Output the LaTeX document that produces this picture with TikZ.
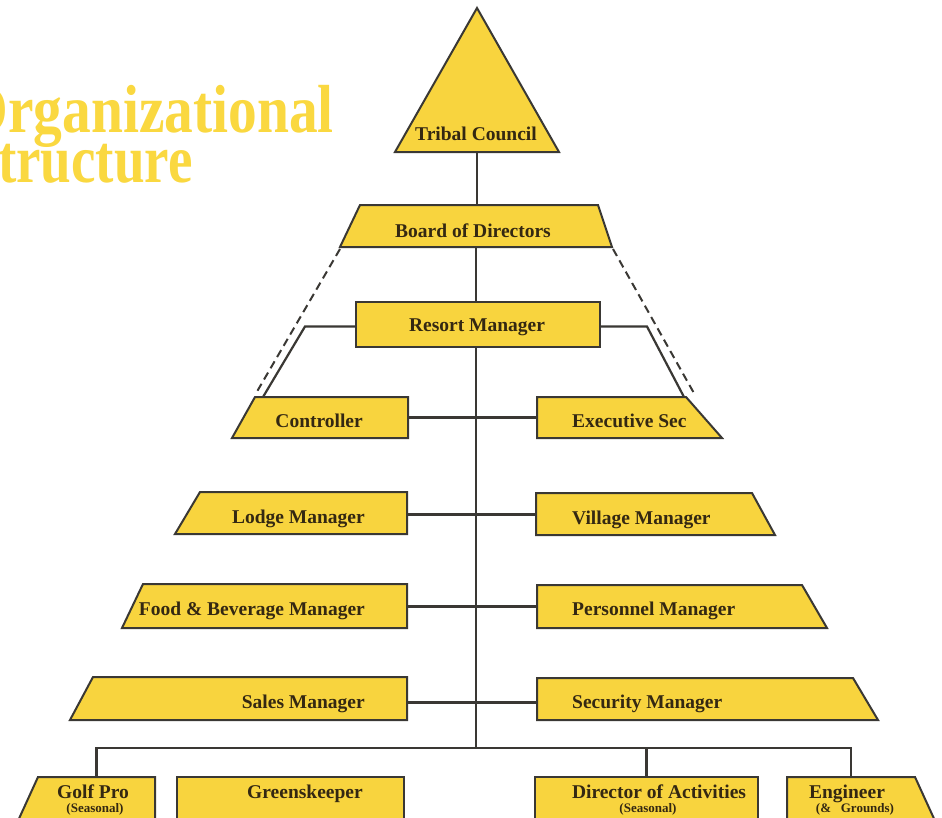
\documentclass[tikz,border=0pt]{standalone}
\usepackage{fontspec}
\setmainfont{Liberation Serif}
\usetikzlibrary{calc}

\definecolor{slabfill}{RGB}{248,212,62}
\definecolor{titlegold}{RGB}{250,216,64}
\definecolor{inkline}{RGB}{58,56,52}
\definecolor{inktext}{RGB}{52,40,18}

\tikzset{
  frame/.style={rectangle, inner sep=0pt, outer sep=0pt, anchor=north west},
  slab/.style={fill=slabfill, draw=inkline, line width=2pt, line join=miter},
  wire/.style={draw=inkline, line width=2.2pt},
  dotted link/.style={draw=inkline, line width=2pt, dash pattern=on 8pt off 5pt},
  lbl/.style={inner sep=0pt, text=inktext, font=\fontsize{19.5}{22}\selectfont\bfseries},
  sublbl/.style={inner sep=0pt, text=inktext, font=\fontsize{13}{15}\selectfont\bfseries},
  headline/.style={inner sep=0pt, text=titlegold, font=\fontsize{68}{70}\selectfont\bfseries},
}

% slab whose bottom edge reaches further left / right
\newcommand\leftslab[2]{\path[slab] (#1.north west) -- (#1.north east) -- (#1.south east) -- ($(#1.south west)+(-#2,0)$) -- cycle;}
\newcommand\rightslab[2]{\path[slab] (#1.north west) -- (#1.north east) -- ($(#1.south east)+(#2,0)$) -- (#1.south west) -- cycle;}
\newcommand\flatslab[1]{\path[slab] (#1.north west) -- (#1.north east) -- (#1.south east) -- (#1.south west) -- cycle;}

\begin{document}
\begin{tikzpicture}[x=1pt,y=-1pt]
\useasboundingbox (0,0) rectangle (942,817);
\clip (0,0) rectangle (942,817);
\fill[white] (0,0) rectangle (942,817);

% heading
\node[headline, anchor=base east] (head1) at (334,132) {\scalebox{0.845}[1]{Organizational}};
\node[headline, anchor=base east] (head2) at (193,182) {\scalebox{0.81}[1]{Structure}};

% frames of the boxes
\node[frame, anchor=south, minimum width=164, minimum height=144] (tribal) at (477,152) {};
\node[frame, minimum width=238, minimum height=42] (board) at (360,205) {};
\node[frame, minimum width=244, minimum height=45] (resort) at (356,302) {};
\node[frame, minimum width=153, minimum height=41] (ctrl) at (255,397) {};
\node[frame, minimum width=149, minimum height=41] (exec) at (537,397) {};
\node[frame, minimum width=207, minimum height=42] (lodge) at (200,492) {};
\node[frame, minimum width=216, minimum height=42] (village) at (536,493) {};
\node[frame, minimum width=264, minimum height=44] (food) at (143,584) {};
\node[frame, minimum width=265, minimum height=43] (personnel) at (537,585) {};
\node[frame, minimum width=314, minimum height=43] (sales) at (93,677) {};
\node[frame, minimum width=316, minimum height=42] (security) at (537,678) {};
\node[frame, minimum width=117, minimum height=46] (golf) at (38,777) {};
\node[frame, minimum width=227, minimum height=46] (green) at (177,777) {};
\node[frame, minimum width=223, minimum height=46] (director) at (535,777) {};
\node[frame, minimum width=128, minimum height=46] (engineer) at (787,777) {};

\coordinate (bar) at (476,748);

% connectors
\draw[wire] (tribal.south) -- (tribal.south |- board.north);
\draw[wire] (bar |- board.south) -- (bar |- resort.north);
\draw[wire] (bar |- resort.south) -- (bar);
\draw[wire] ($(resort.west)+(0,2)$) -- ++(-51,0) -- ($(ctrl.north west)+(8,0)$);
\draw[wire] ($(resort.east)+(0,2)$) -- ++(47,0) -- ($(exec.north east)+(-2,0)$);
\draw[dotted link] ($(board.south west)+(-20,2)$) -- ($(ctrl.north west)+(0,-2)$);
\draw[dotted link] ($(board.south east)+(15,2)$) -- ($(exec.north east)+(9,-2)$);
\draw[wire] (ctrl.east) -- (ctrl.east -| exec.west);
\draw[wire] ($(lodge.east)+(0,1.5)$) -- ($(lodge.east -| village.west)+(0,1.5)$);
\draw[wire] ($(food.east)+(0,0.5)$) -- ($(food.east -| personnel.west)+(0,0.5)$);
\draw[wire] ($(sales.east)+(0,4)$) -- ($(sales.east -| security.west)+(0,4)$);
\draw[wire] (golf.north) -- (golf.north |- bar) -- (engineer.north |- bar) -- (engineer.north);
\draw[wire] ($(green.north west)+(140,0)$) -- ($(green.north west)+(140,0)$ |- bar);
\draw[wire] (director.north) -- (director.north |- bar);

% boxes
\path[slab] (tribal.south west) -- (tribal.south east) -- (477,8) -- cycle;
\path[slab] (board.north west) -- (board.north east) -- ($(board.south east)+(14,0)$) -- ($(board.south west)+(-20,0)$) -- cycle;
\flatslab{resort}
\leftslab{ctrl}{23}
\rightslab{exec}{36}
\leftslab{lodge}{25}
\rightslab{village}{23}
\leftslab{food}{21}
\rightslab{personnel}{25}
\leftslab{sales}{23}
\rightslab{security}{25}
\leftslab{golf}{21}
\flatslab{green}
\flatslab{director}
\rightslab{engineer}{21}

% labels
\node[lbl, anchor=base] (tribal-t) at (476,140) {Tribal Council};
\node[lbl, anchor=base] (board-t) at (473,237) {Board of Directors};
\node[lbl, anchor=base] (resort-t) at (477,331) {Resort Manager};
\node[lbl, anchor=base east] (ctrl-t) at (363,427) {Controller};
\node[lbl, anchor=base west] (exec-t) at (572,427) {Executive Sec};
\node[lbl, anchor=base east] (lodge-t) at (365,523) {Lodge Manager};
\node[lbl, anchor=base west] (village-t) at (572,524) {Village Manager};
\node[lbl, anchor=base east] (food-t) at (365,615) {Food \& Beverage Manager};
\node[lbl, anchor=base west] (personnel-t) at (572,615) {Personnel Manager};
\node[lbl, anchor=base east] (sales-t) at (365,708) {Sales Manager};
\node[lbl, anchor=base west] (security-t) at (572,708) {Security Manager};
\node[lbl, anchor=base] (golf-t) at (93,798) {Golf Pro};
\node[sublbl, anchor=base] (golf-s) at (95,812) {(Seasonal)};
\node[lbl, anchor=base] (green-t) at (305,798) {Greenskeeper};
\node[lbl, anchor=base] (director-t) at (659,798) {Director of Activities};
\node[sublbl, anchor=base] (director-s) at (648,812) {(Seasonal)};
\node[lbl, anchor=base] (engineer-t) at (847,798) {Engineer};
\node[sublbl, anchor=base] (engineer-s) at (855,812) {(\&\ \ \ Grounds)};
\end{tikzpicture}
\end{document}
